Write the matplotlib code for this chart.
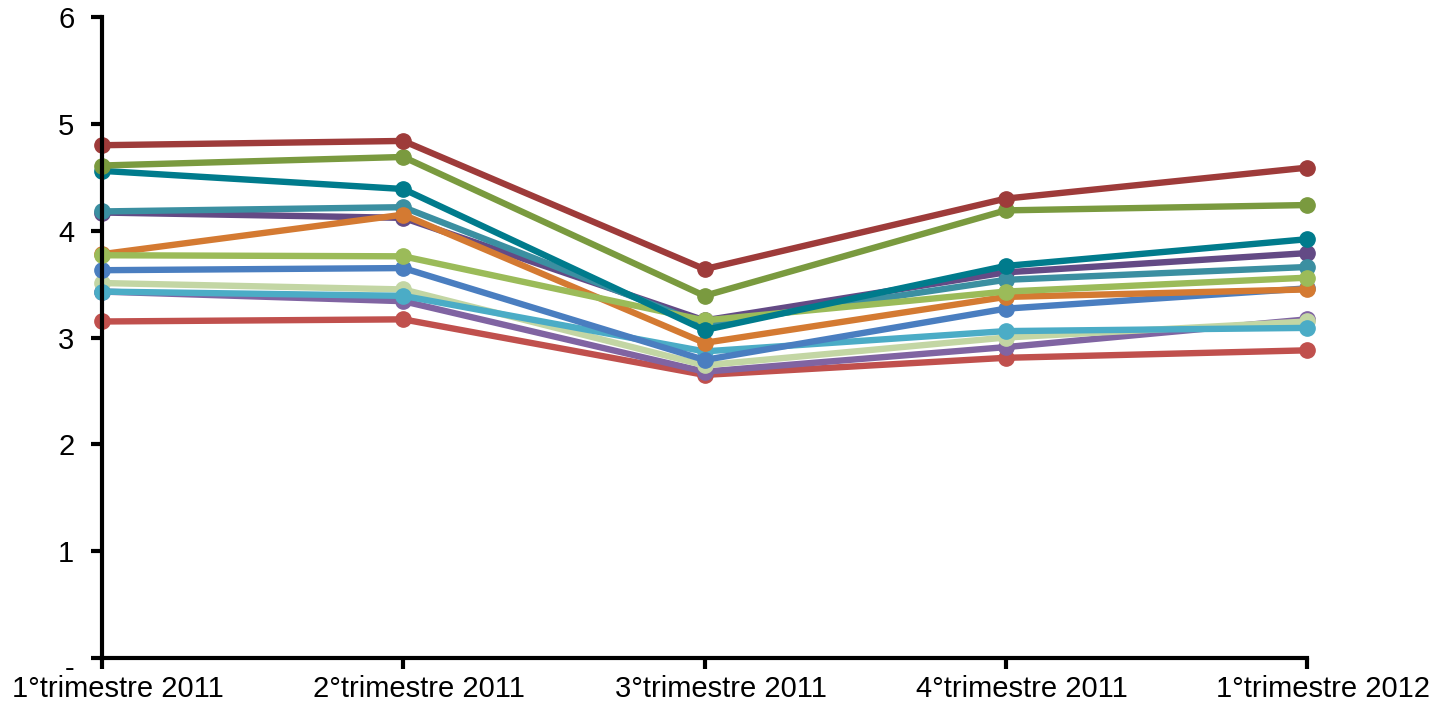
import numpy as np
import matplotlib.pyplot as plt
import matplotlib.transforms as mtransforms

plt.rcParams['font.family'] = ['Liberation Sans', 'DejaVu Sans']

quarters = ['1°trimestre 2011', '2°trimestre 2011', '3°trimestre 2011',
            '4°trimestre 2011', '1°trimestre 2012']

# series drawn bottom to top
red = [3.15, 3.17, 2.65, 2.81, 2.88]
purple_light = [3.43, 3.34, 2.68, 2.91, 3.17]
pale_green = [3.51, 3.45, 2.74, 3.00, 3.15]
cyan = [3.43, 3.39, 2.87, 3.06, 3.09]
blue = [3.63, 3.65, 2.79, 3.27, 3.46]
purple_dark = [4.17, 4.12, 3.16, 3.61, 3.79]
teal_mid = [4.18, 4.22, 3.12, 3.54, 3.66]
orange = [3.78, 4.15, 2.95, 3.38, 3.45]
light_green = [3.77, 3.76, 3.16, 3.43, 3.56]
teal_dark = [4.56, 4.39, 3.07, 3.67, 3.92]
olive = [4.61, 4.69, 3.39, 4.19, 4.24]
dark_red = [4.80, 4.84, 3.64, 4.30, 4.59]

series = [red, purple_light, pale_green, cyan, blue, purple_dark, teal_mid,
          orange, light_green, teal_dark, olive, dark_red]
colors = ['#C0504D', '#8064A2', '#C3D6A4', '#4BACC6', '#4A7EC0', '#634A85',
          '#3B8FA1', '#D47A32', '#9BBB59', '#007B8C', '#7A9A3F', '#9E3B3A']

fig = plt.figure(figsize=(14.35, 7.03), dpi=100)
ax = fig.add_axes([0.0711, 0.064, 0.8397, 0.9118])

x = np.arange(len(quarters))
for vals, c in zip(series, colors):
    ax.plot(x, vals, color=c, lw=4.6, marker='o', ms=11, mec=c, mfc=c,
            solid_capstyle='round', clip_on=False)

ax.set_xlim(0, 4)
ax.set_ylim(0, 6)
ax.set_xticks(x)
ax.set_xticklabels(quarters)
ax.set_yticks(range(7))
ax.set_yticklabels(['-', '1', '2', '3', '4', '5', '6'])

for s in ['top', 'right']:
    ax.spines[s].set_visible(False)
for s in ['left', 'bottom']:
    ax.spines[s].set_linewidth(3)
    ax.spines[s].set_color('black')

ax.tick_params(axis='both', direction='out', length=8, width=3,
               labelsize=21, colors='black')
ax.tick_params(axis='y', pad=12)
ax.tick_params(axis='x', pad=4)

# Excel-style shift of the category labels to the right
shift = mtransforms.ScaledTranslation(16 / 100, 0, fig.dpi_scale_trans)
for lbl in ax.get_xticklabels():
    lbl.set_transform(lbl.get_transform() + shift)
down = mtransforms.ScaledTranslation(0, -8 / 100, fig.dpi_scale_trans)
zero_lbl = ax.get_yticklabels()[0]
zero_lbl.set_transform(zero_lbl.get_transform() + down)

fig.savefig('out.png', dpi=100)
